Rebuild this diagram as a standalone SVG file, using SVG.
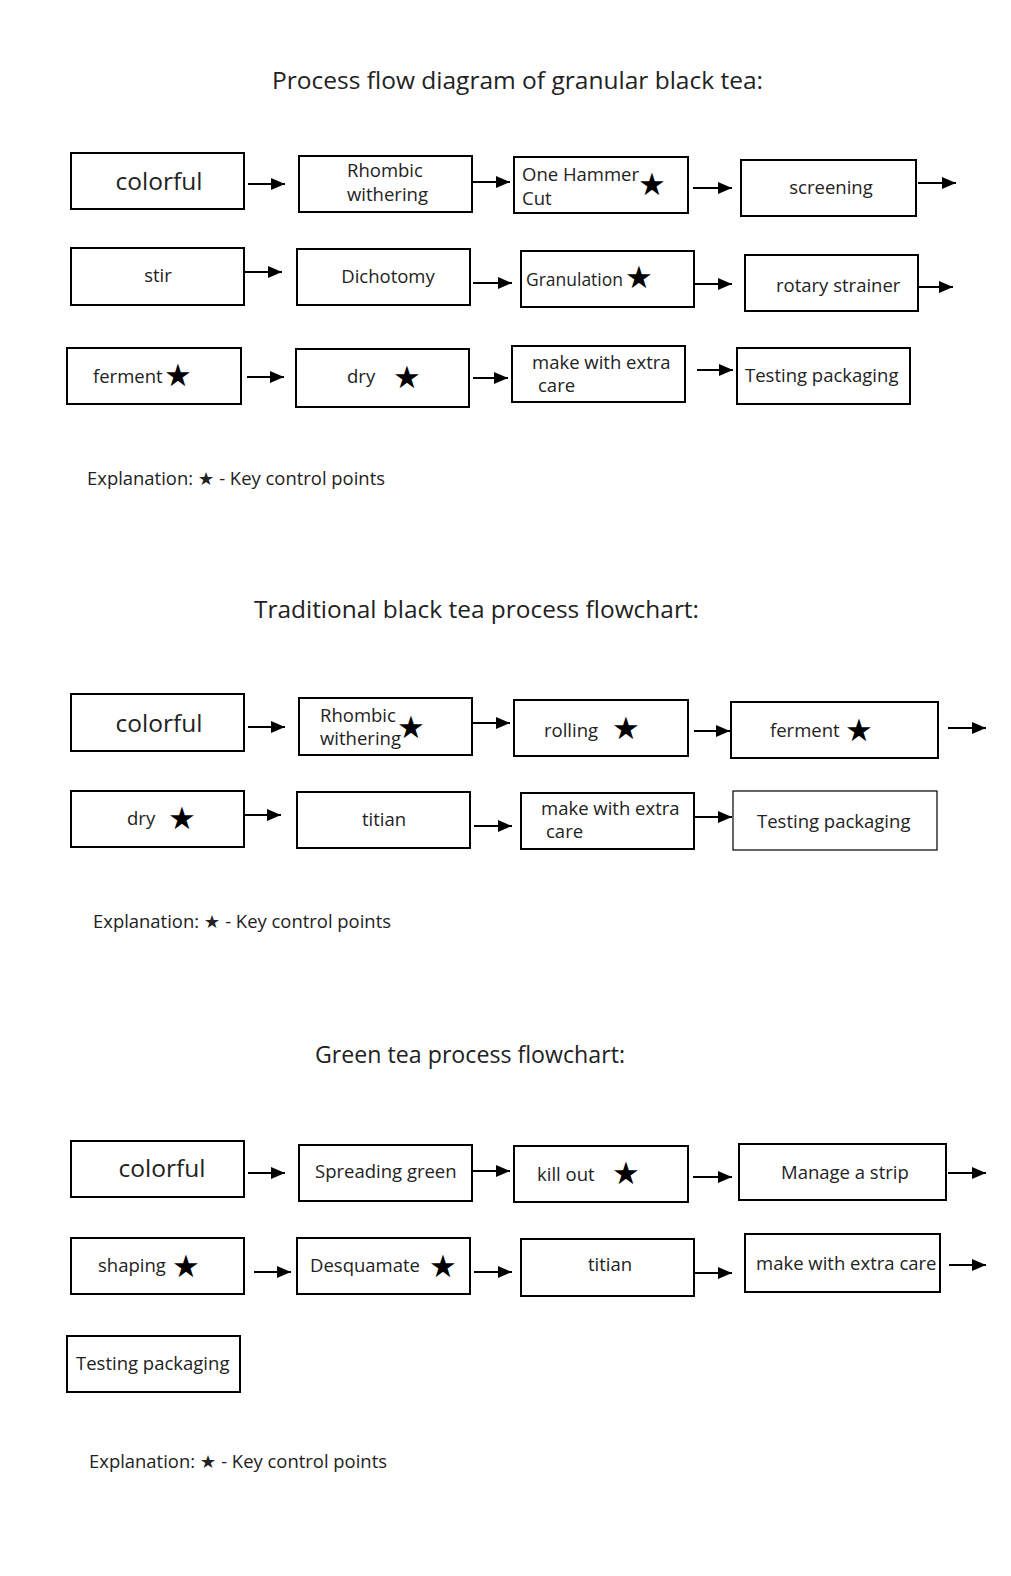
<svg xmlns="http://www.w3.org/2000/svg" width="1011" height="1576" viewBox="0 0 1011 1576">
<defs>
<marker id="ah" markerUnits="userSpaceOnUse" markerWidth="15" markerHeight="13" refX="14" refY="6" orient="auto">
<path d="M0,0 L14,6 L0,12 Z" fill="#000"/>
</marker>
<style>
.box{fill:#fff;stroke:#000;stroke-width:2}
.thin{fill:#fff;stroke:#000;stroke-width:1.2}
.t{font-family:"Open Sans","Noto Sans","DejaVu Sans",sans-serif;font-size:18.5px;fill:#222}
.big{font-family:"Open Sans","Noto Sans","DejaVu Sans",sans-serif;font-size:24.5px;fill:#222}
.title{font-family:"Open Sans","Noto Sans","DejaVu Sans",sans-serif;font-size:24px;fill:#222}
.ex{font-family:"Open Sans","Noto Sans","DejaVu Sans",sans-serif;font-size:18px;fill:#222}
.star{font-family:"DejaVu Sans",sans-serif;font-size:31px;fill:#000;text-anchor:middle}
.c{text-anchor:middle}
.conn line{stroke:#000;stroke-width:2;marker-end:url(#ah)}
</style>
</defs>
<rect width="1011" height="1576" fill="#fff"/>

<!-- Section 1 -->
<text class="title" x="272" y="89" textLength="491" lengthAdjust="spacingAndGlyphs">Process flow diagram of granular black tea:</text>

<g id="s1-colorful"><rect class="box" x="71" y="153" width="173" height="56"/><text class="big c" x="159" y="190">colorful</text></g>
<g id="s1-rhombic"><rect class="box" x="299" y="156" width="173" height="56"/><text class="t" x="347" y="177">Rhombic</text><text class="t" x="347" y="201">withering</text></g>
<g id="s1-hammer"><rect class="box" x="514" y="157" width="174" height="56"/><text class="t" x="522" y="181">One Hammer</text><text class="t" x="522" y="205">Cut</text><text class="star" x="652" y="195">★</text></g>
<g id="s1-screening"><rect class="box" x="741" y="160" width="175" height="56"/><text class="t c" x="831" y="194">screening</text></g>

<g id="s1-stir"><rect class="box" x="71" y="248" width="173" height="57"/><text class="t c" x="158" y="282">stir</text></g>
<g id="s1-dichotomy"><rect class="box" x="297" y="249" width="173" height="56"/><text class="t c" x="388" y="283">Dichotomy</text></g>
<g id="s1-granulation"><rect class="box" x="521" y="251" width="173" height="56"/><text class="t" x="526" y="286" textLength="97" lengthAdjust="spacingAndGlyphs">Granulation</text><text class="star" x="639" y="288">★</text></g>
<g id="s1-rotary"><rect class="box" x="745" y="255" width="173" height="56"/><text class="t" x="776" y="292">rotary strainer</text></g>

<g id="s1-ferment"><rect class="box" x="67" y="348" width="174" height="56"/><text class="t" x="93" y="383">ferment</text><text class="star" x="178" y="386">★</text></g>
<g id="s1-dry"><rect class="box" x="296" y="349" width="173" height="58"/><text class="t" x="347" y="383">dry</text><text class="star" x="407" y="388">★</text></g>
<g id="s1-care"><rect class="box" x="512" y="346" width="173" height="56"/><text class="t" x="532" y="369">make with extra</text><text class="t" x="538" y="392">care</text></g>
<g id="s1-testing"><rect class="box" x="737" y="348" width="173" height="56"/><text class="t" x="745" y="382">Testing packaging</text></g>

<text class="ex" x="87" y="485" textLength="298" lengthAdjust="spacingAndGlyphs">Explanation: ★ - Key control points</text>

<!-- Section 2 -->
<text class="title" x="254" y="618" textLength="445" lengthAdjust="spacingAndGlyphs">Traditional black tea process flowchart:</text>

<g id="s2-colorful"><rect class="box" x="71" y="694" width="173" height="57"/><text class="big c" x="159" y="732">colorful</text></g>
<g id="s2-rhombic"><rect class="box" x="299" y="698" width="173" height="57"/><text class="t" x="320" y="722">Rhombic</text><text class="t" x="320" y="745">withering</text><text class="star" x="411" y="738">★</text></g>
<g id="s2-rolling"><rect class="box" x="514" y="700" width="174" height="56"/><text class="t" x="544" y="737">rolling</text><text class="star" x="626" y="739">★</text></g>
<g id="s2-ferment"><rect class="box" x="731" y="702" width="207" height="56"/><text class="t" x="770" y="737">ferment</text><text class="star" x="859" y="741">★</text></g>

<g id="s2-dry"><rect class="box" x="71" y="791" width="173" height="56"/><text class="t" x="127" y="825">dry</text><text class="star" x="182" y="829">★</text></g>
<g id="s2-titian"><rect class="box" x="297" y="792" width="173" height="56"/><text class="t c" x="384" y="826">titian</text></g>
<g id="s2-care"><rect class="box" x="521" y="793" width="173" height="56"/><text class="t" x="541" y="815">make with extra</text><text class="t" x="546" y="838">care</text></g>
<g id="s2-testing"><rect class="thin" x="733" y="791" width="204" height="59"/><text class="t" x="757" y="828">Testing packaging</text></g>

<text class="ex" x="93" y="928" textLength="298" lengthAdjust="spacingAndGlyphs">Explanation: ★ - Key control points</text>

<!-- Section 3 -->
<text class="title" x="315" y="1063" textLength="310" lengthAdjust="spacingAndGlyphs">Green tea process flowchart:</text>

<g id="s3-colorful"><rect class="box" x="71" y="1141" width="173" height="56"/><text class="big c" x="162" y="1177">colorful</text></g>
<g id="s3-spreading"><rect class="box" x="299" y="1145" width="173" height="56"/><text class="t" x="315" y="1178">Spreading green</text></g>
<g id="s3-kill"><rect class="box" x="514" y="1146" width="174" height="56"/><text class="t" x="537" y="1181">kill out</text><text class="star" x="626" y="1184">★</text></g>
<g id="s3-manage"><rect class="box" x="739" y="1144" width="207" height="56"/><text class="t" x="781" y="1179">Manage a strip</text></g>

<g id="s3-shaping"><rect class="box" x="71" y="1238" width="173" height="56"/><text class="t" x="98" y="1272">shaping</text><text class="star" x="186" y="1277">★</text></g>
<g id="s3-desquamate"><rect class="box" x="297" y="1238" width="173" height="56"/><text class="t" x="310" y="1272">Desquamate</text><text class="star" x="443" y="1277">★</text></g>
<g id="s3-titian"><rect class="box" x="521" y="1239" width="173" height="57"/><text class="t c" x="610" y="1271">titian</text></g>
<g id="s3-care"><rect class="box" x="745" y="1234" width="195" height="58"/><text class="t" x="756" y="1270">make with extra care</text></g>

<g id="s3-testing"><rect class="box" x="67" y="1336" width="173" height="56"/><text class="t" x="76" y="1370">Testing packaging</text></g>

<text class="ex" x="89" y="1468" textLength="298" lengthAdjust="spacingAndGlyphs">Explanation: ★ - Key control points</text>

<g id="connectors" class="conn">
<line x1="248" y1="184" x2="285" y2="184"/>
<line x1="472" y1="182" x2="510" y2="182"/>
<line x1="693" y1="188" x2="732" y2="188"/>
<line x1="918" y1="183" x2="956" y2="183"/>
<line x1="244" y1="272" x2="282" y2="272"/>
<line x1="473" y1="283" x2="512" y2="283"/>
<line x1="694" y1="284" x2="732" y2="284"/>
<line x1="918" y1="287" x2="953" y2="287"/>
<line x1="247" y1="377" x2="284" y2="377"/>
<line x1="473" y1="378" x2="508" y2="378"/>
<line x1="697" y1="370" x2="733" y2="370"/>

<line x1="248" y1="727" x2="285" y2="727"/>
<line x1="472" y1="723" x2="510" y2="723"/>
<line x1="694" y1="731" x2="730" y2="731"/>
<line x1="948" y1="728" x2="986" y2="728"/>
<line x1="244" y1="815" x2="281" y2="815"/>
<line x1="474" y1="826" x2="512" y2="826"/>
<line x1="694" y1="817" x2="732" y2="817"/>

<line x1="248" y1="1173" x2="285" y2="1173"/>
<line x1="472" y1="1171" x2="510" y2="1171"/>
<line x1="693" y1="1177" x2="732" y2="1177"/>
<line x1="948" y1="1173" x2="986" y2="1173"/>
<line x1="254" y1="1272" x2="291" y2="1272"/>
<line x1="474" y1="1272" x2="512" y2="1272"/>
<line x1="694" y1="1273" x2="732" y2="1273"/>
<line x1="949" y1="1265" x2="986" y2="1265"/>
</g>
</svg>
